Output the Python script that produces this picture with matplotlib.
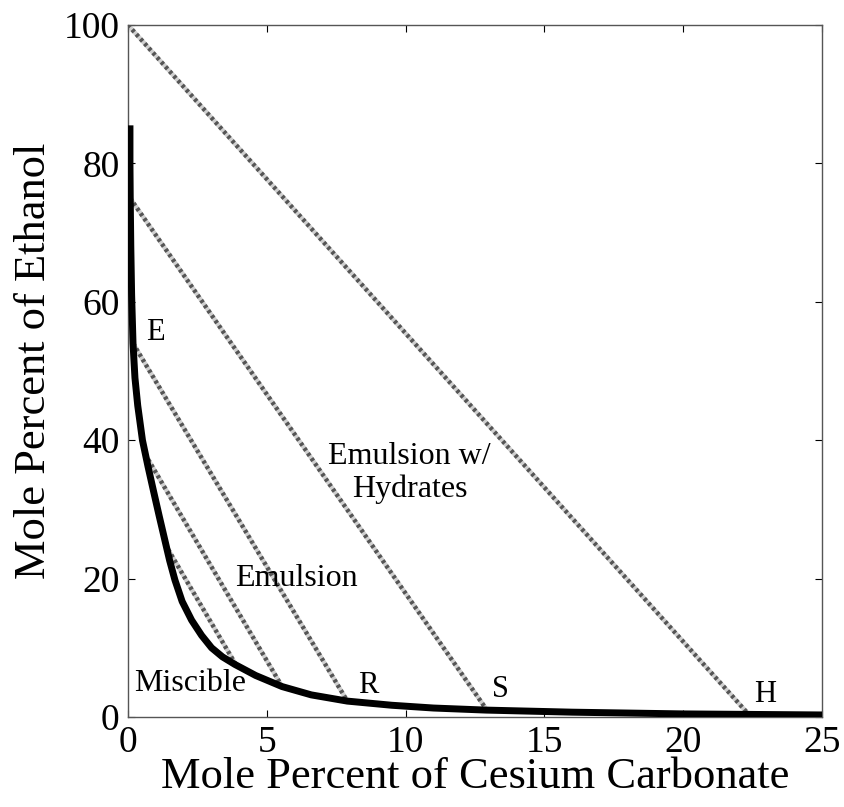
import matplotlib
matplotlib.use("Agg")
import matplotlib.pyplot as plt

# Binodal curve
curve_x = [0.07, 0.07, 0.08, 0.10, 0.13, 0.18, 0.25, 0.35, 0.52, 0.72, 0.91, 1.12, 1.33, 1.50, 1.69, 1.95, 2.29,
           2.65, 3.01, 3.40, 3.85, 4.60, 5.55, 6.60, 7.90, 9.50, 11.0, 12.9, 16.0, 20.0, 25.0]
curve_y = [85.5, 80.0, 75.0, 68.0, 61.0, 54.0, 49.0, 45.0, 40.0, 36.2, 32.8, 29.1, 25.5, 22.6, 19.8, 16.7, 14.0,
           11.8, 10.0, 8.7, 7.6, 6.0, 4.4, 3.2, 2.3, 1.7, 1.3, 1.0, 0.7, 0.45, 0.3]

# Tie lines: start (x, y) and end (x, y)
tie_x0 = [0.0, 0.07, 0.18, 0.61, 1.33]
tie_y0 = [100.0, 75.0, 54.0, 38.0, 25.0]
tie_x1 = [22.4, 12.93, 7.9, 5.55, 3.88]
tie_y1 = [0.2, 1.0, 2.3, 4.4, 7.6]

point_labels = ["E", "R", "S", "H"]
point_lx = [1.0, 8.65, 13.4, 22.95]
point_ly = [55.5, 4.6, 4.0, 3.3]

region_labels = ["Miscible", "Emulsion", "Emulsion w/\nHydrates"]
region_lx = [2.25, 6.05, 10.15]
region_ly = [4.9, 20.0, 35.3]

plt.rcParams['font.family'] = ['Liberation Serif', 'DejaVu Serif']

fig = plt.figure(figsize=(8.45, 8.07), dpi=100)
ax = fig.add_axes([0.1515, 0.1115, 0.8213, 0.8575])

for x0, y0, x1, y1 in zip(tie_x0, tie_y0, tie_x1, tie_y1):
    ax.plot([x0, x1], [y0, y1], color='#d0d0d0', lw=3.2, solid_capstyle='butt', zorder=2)
    ax.plot([x0, x1], [y0, y1], color='#555555', lw=3.2, dashes=(0.7, 0.7), zorder=3)

ax.plot(curve_x, curve_y, color='black', lw=5, zorder=4, solid_capstyle='butt', solid_joinstyle='round')

for t, x, y in zip(point_labels, point_lx, point_ly):
    ax.text(x, y, t, fontsize=22, ha='center', va='center')
for t, x, y in zip(region_labels, region_lx, region_ly):
    ax.text(x, y, t, fontsize=23, ha='center', va='center', linespacing=1.15)

ax.set_xlim(0, 25)
ax.set_ylim(0, 100)
ax.set_xticks([0, 5, 10, 15, 20, 25])
ax.set_yticks([0, 20, 40, 60, 80, 100])
ax.tick_params(direction='in', top=True, right=True, length=5, width=0.8, labelsize=27, pad=6)
for s in ax.spines.values():
    s.set_color('#555555')
    s.set_linewidth(1.0)
ax.set_xlabel('Mole Percent of Cesium Carbonate', fontsize=32, labelpad=-2)
ax.set_ylabel('Mole Percent of Ethanol', fontsize=32)
ax.yaxis.set_label_coords(-0.106, 0.515)

fig.savefig('out.png', dpi=100)
